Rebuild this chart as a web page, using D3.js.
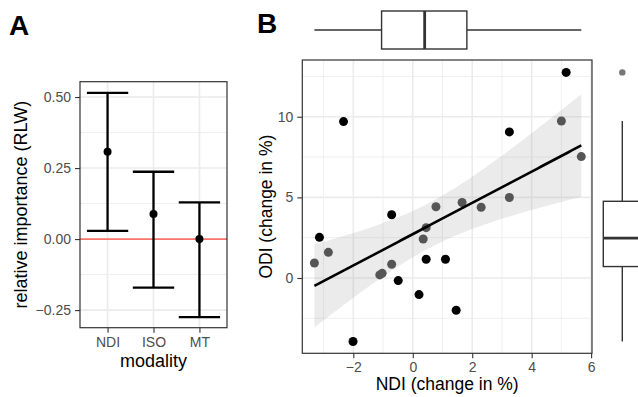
<!DOCTYPE html>
<html>
<head>
<meta charset="utf-8">
<script src="https://cdn.jsdelivr.net/npm/d3@7"></script>
<style>
  body { margin: 0; background: #fff; }
  svg { display: block; font-family: "Liberation Sans", Arial, sans-serif; }
</style>
</head>
<body>
<svg id="fig" width="638" height="397"></svg>
<script>
// panel A: relative importance per modality
var modalities = ['NDI', 'ISO', 'MT'];
var rlwEstimate = [0.307, 0.088, 0.0];
var rlwLower = [0.029, -0.171, -0.275];
var rlwUpper = [0.515, 0.237, 0.129];
var rlwTicks = [-0.25, 0, 0.25, 0.5];
var rlwTickLabels = ['\u22120.25', '0.00', '0.25', '0.50'];

// panel B: NDI vs ODI change per subject
var ndiChange = [-3.31, -3.14, -2.84, -2.33, -2.01, -1.11, -1.03, -0.71, -0.71, -0.49, 0.21, 0.35,
                 0.45, 0.45, 0.78, 1.10, 1.46, 1.66, 2.30, 3.25, 3.25, 5.00, 5.16, 5.67];
var odiChange = [0.93, 2.52, 1.59, 9.70, -3.94, 0.19, 0.29, 3.92, 0.85, -0.16, -1.03, 2.42,
                 3.12, 1.16, 4.42, 1.16, -2.00, 4.68, 4.39, 9.06, 4.99, 9.74, 12.75, 7.53];
var pointGroup = ['g2', 'g1', 'g2', 'g1', 'g1', 'g2', 'g2', 'g1', 'g2', 'g1', 'g1', 'g2',
                  'g2', 'g1', 'g2', 'g1', 'g1', 'g2', 'g2', 'g1', 'g2', 'g2', 'g1', 'g2'];
var ndiTicks = [-2, 0, 2, 4, 6];
var odiTicks = [0, 5, 10];

var T_CRIT = 2.074; // t(0.975, df = 22)

var svg = d3.select('#fig');
var gridCol = '#ebebeb';
var tickTextCol = '#4d4d4d';
var frameCol = '#333333';

function drawGrid(g, xs, ys, xMinor, yMinor, x0, x1, y0, y1) {
  xMinor.forEach(function(v) {
    g.append('line').attr('x1', xs(v)).attr('x2', xs(v)).attr('y1', y0).attr('y2', y1)
      .attr('stroke', gridCol).attr('stroke-width', 0.8);
  });
  yMinor.forEach(function(v) {
    g.append('line').attr('y1', ys(v)).attr('y2', ys(v)).attr('x1', x0).attr('x2', x1)
      .attr('stroke', gridCol).attr('stroke-width', 0.8);
  });
}

function styleAxis(ax) {
  ax.select('.domain').remove();
  ax.selectAll('.tick line').attr('stroke', frameCol).attr('stroke-width', 1.1);
  ax.selectAll('.tick text').attr('fill', tickTextCol).style('font-size', '14px')
    .style('font-family', '"Liberation Sans", Arial, sans-serif');
}

// ---------- Panel A ----------
var aL = 80, aR = 227, aT = 81.7, aB = 327.7;
var xA = d3.scalePoint().domain(modalities).range([aL, aR]).padding(0.6);
var yA = d3.scaleLinear().domain([-0.312, 0.554]).range([aB, aT]);

var gA = svg.append('g');
gA.append('rect').attr('x', aL).attr('y', aT).attr('width', aR - aL).attr('height', aB - aT).attr('fill', '#fff');
drawGrid(gA, xA, yA, [], [-0.125, 0.125, 0.375], aL, aR, aT, aB);
rlwTicks.forEach(function(v) {
  gA.append('line').attr('y1', yA(v)).attr('y2', yA(v)).attr('x1', aL).attr('x2', aR)
    .attr('stroke', gridCol).attr('stroke-width', 1.6);
});
modalities.forEach(function(m) {
  gA.append('line').attr('x1', xA(m)).attr('x2', xA(m)).attr('y1', aT).attr('y2', aB)
    .attr('stroke', gridCol).attr('stroke-width', 1.6);
});
gA.append('line').attr('x1', aL).attr('x2', aR).attr('y1', yA(0)).attr('y2', yA(0))
  .attr('stroke', '#F8766D').attr('stroke-width', 1.8);

var capHalf = xA.step() * 0.45;
modalities.forEach(function(m, i) {
  var cx = xA(m);
  gA.append('line').attr('x1', cx).attr('x2', cx).attr('y1', yA(rlwLower[i])).attr('y2', yA(rlwUpper[i]))
    .attr('stroke', '#000').attr('stroke-width', 2.3);
  [rlwLower[i], rlwUpper[i]].forEach(function(v) {
    gA.append('line').attr('x1', cx - capHalf).attr('x2', cx + capHalf).attr('y1', yA(v)).attr('y2', yA(v))
      .attr('stroke', '#000').attr('stroke-width', 2.3);
  });
  gA.append('circle').attr('cx', cx).attr('cy', yA(rlwEstimate[i])).attr('r', 4).attr('fill', '#000');
});
gA.append('rect').attr('x', aL).attr('y', aT).attr('width', aR - aL).attr('height', aB - aT)
  .attr('fill', 'none').attr('stroke', frameCol).attr('stroke-width', 1.2);

var axAy = gA.append('g').attr('transform', 'translate(' + aL + ',0)')
  .call(d3.axisLeft(yA).tickValues(rlwTicks).tickSize(5).tickPadding(4)
    .tickFormat(function(d, i) { return rlwTickLabels[i]; }));
styleAxis(axAy);
var axAx = gA.append('g').attr('transform', 'translate(0,' + aB + ')')
  .call(d3.axisBottom(xA).tickSize(5).tickPadding(4));
styleAxis(axAx);

gA.append('text').attr('x', (aL + aR) / 2).attr('y', 367).attr('text-anchor', 'middle')
  .style('font-size', '18px').text('modality');
gA.append('text').attr('transform', 'translate(27,' + ((aT + aB) / 2) + ') rotate(-90)')
  .attr('text-anchor', 'middle').style('font-size', '18px').text('relative importance (RLW)');
gA.append('text').attr('x', 9).attr('y', 35).style('font-size', '28px').style('font-weight', 'bold').text('A');

// ---------- Panel B ----------
var bL = 302.3, bR = 592, bT = 60, bB = 353.3;
var xB = d3.scaleLinear().domain([-3.717, 6.03]).range([bL, bR]);
var yB = d3.scaleLinear().domain([-4.67, 13.52]).range([bB, bT]);

var gB = svg.append('g');
gB.append('rect').attr('x', bL).attr('y', bT).attr('width', bR - bL).attr('height', bB - bT).attr('fill', '#fff');
drawGrid(gB, xB, yB, [-3, -1, 1, 3, 5], [-2.5, 2.5, 7.5, 12.5], bL, bR, bT, bB);
ndiTicks.forEach(function(v) {
  gB.append('line').attr('x1', xB(v)).attr('x2', xB(v)).attr('y1', bT).attr('y2', bB)
    .attr('stroke', gridCol).attr('stroke-width', 1.6);
});
odiTicks.forEach(function(v) {
  gB.append('line').attr('y1', yB(v)).attr('y2', yB(v)).attr('x1', bL).attr('x2', bR)
    .attr('stroke', gridCol).attr('stroke-width', 1.6);
});

// linear fit with 95% confidence band
var n = ndiChange.length;
var mx = d3.mean(ndiChange), my = d3.mean(odiChange);
var sxx = d3.sum(ndiChange, function(x) { return (x - mx) * (x - mx); });
var sxy = d3.sum(ndiChange, function(x, i) { return (x - mx) * (odiChange[i] - my); });
var slope = sxy / sxx, intercept = my - slope * mx;
var sse = d3.sum(ndiChange, function(x, i) { var r = odiChange[i] - (intercept + slope * x); return r * r; });
var sRes = Math.sqrt(sse / (n - 2));
var xMin = d3.min(ndiChange), xMax = d3.max(ndiChange);
var band = d3.range(81).map(function(k) {
  var x = xMin + (xMax - xMin) * k / 80;
  var fit = intercept + slope * x;
  var se = sRes * Math.sqrt(1 / n + (x - mx) * (x - mx) / sxx);
  return { x: x, fit: fit, lo: fit - T_CRIT * se, hi: fit + T_CRIT * se };
});
gB.append('path').datum(band)
  .attr('d', d3.area().x(function(d) { return xB(d.x); }).y0(function(d) { return yB(d.lo); }).y1(function(d) { return yB(d.hi); }))
  .attr('fill', '#999').attr('fill-opacity', 0.2);

var pts = ndiChange.map(function(x, i) { return { x: x, y: odiChange[i], g: pointGroup[i] }; });
pts.sort(function(a, b) { return a.g === b.g ? 0 : (a.g === 'g2' ? -1 : 1); });
gB.selectAll('circle.pt').data(pts).enter().append('circle').attr('class', 'pt')
  .attr('cx', function(d) { return xB(d.x); })
  .attr('cy', function(d) { return yB(d.y); })
  .attr('r', 4.5)
  .attr('fill', function(d) { return d.g === 'g1' ? '#000' : '#555'; });

gB.append('path').datum(band)
  .attr('d', d3.line().x(function(d) { return xB(d.x); }).y(function(d) { return yB(d.fit); }))
  .attr('fill', 'none').attr('stroke', '#000').attr('stroke-width', 2.6);

gB.append('rect').attr('x', bL).attr('y', bT).attr('width', bR - bL).attr('height', bB - bT)
  .attr('fill', 'none').attr('stroke', frameCol).attr('stroke-width', 1.2);

var axBy = gB.append('g').attr('transform', 'translate(' + bL + ',0)')
  .call(d3.axisLeft(yB).tickValues(odiTicks).tickSize(5).tickPadding(4).tickFormat(d3.format('d')));
styleAxis(axBy);
var axBx = gB.append('g').attr('transform', 'translate(0,' + bB + ')')
  .call(d3.axisBottom(xB).tickValues(ndiTicks).tickSize(5).tickPadding(4)
    .tickFormat(function(d) { return d < 0 ? '\u2212' + Math.abs(d) : d; }));
styleAxis(axBx);

gB.append('text').attr('x', (bL + bR) / 2).attr('y', 390).attr('text-anchor', 'middle')
  .style('font-size', '17.5px').text('NDI (change in %)');
gB.append('text').attr('transform', 'translate(272,' + ((bT + bB) / 2) + ') rotate(-90)')
  .attr('text-anchor', 'middle').style('font-size', '17.5px').text('ODI (change in %)');
gB.append('text').attr('x', 257).attr('y', 33).style('font-size', '28px').style('font-weight', 'bold').text('B');

// marginal boxplots
function boxStats(vals) {
  var s = vals.slice().sort(d3.ascending);
  var q1 = d3.quantileSorted(s, 0.25), med = d3.quantileSorted(s, 0.5), q3 = d3.quantileSorted(s, 0.75);
  var iqr = q3 - q1;
  var inside = s.filter(function(v) { return v >= q1 - 1.5 * iqr && v <= q3 + 1.5 * iqr; });
  return { q1: q1, med: med, q3: q3, lo: d3.min(inside), hi: d3.max(inside),
           out: s.filter(function(v) { return v < q1 - 1.5 * iqr || v > q3 + 1.5 * iqr; }) };
}
var boxHalf = 19;

// top: NDI
var bx = boxStats(ndiChange), cy = 30;
var gTop = svg.append('g');
gTop.append('line').attr('x1', xB(bx.lo)).attr('x2', xB(bx.q1)).attr('y1', cy).attr('y2', cy).attr('stroke', frameCol).attr('stroke-width', 1.4);
gTop.append('line').attr('x1', xB(bx.q3)).attr('x2', xB(bx.hi)).attr('y1', cy).attr('y2', cy).attr('stroke', frameCol).attr('stroke-width', 1.4);
gTop.append('rect').attr('x', xB(bx.q1)).attr('y', cy - boxHalf).attr('width', xB(bx.q3) - xB(bx.q1)).attr('height', 2 * boxHalf)
  .attr('fill', '#fff').attr('stroke', frameCol).attr('stroke-width', 1.4);
gTop.append('line').attr('x1', xB(bx.med)).attr('x2', xB(bx.med)).attr('y1', cy - boxHalf).attr('y2', cy + boxHalf).attr('stroke', frameCol).attr('stroke-width', 2.8);
bx.out.forEach(function(v) {
  gTop.append('circle').attr('cx', xB(v)).attr('cy', cy).attr('r', 3.2).attr('fill', '#777');
});

// right: ODI
var by = boxStats(odiChange), cx = 622.3;
var gRight = svg.append('g');
gRight.append('line').attr('x1', cx).attr('x2', cx).attr('y1', yB(by.lo)).attr('y2', yB(by.q1)).attr('stroke', frameCol).attr('stroke-width', 1.4);
gRight.append('line').attr('x1', cx).attr('x2', cx).attr('y1', yB(by.q3)).attr('y2', yB(by.hi)).attr('stroke', frameCol).attr('stroke-width', 1.4);
gRight.append('rect').attr('x', cx - boxHalf).attr('y', yB(by.q3)).attr('width', 2 * boxHalf).attr('height', yB(by.q1) - yB(by.q3))
  .attr('fill', '#fff').attr('stroke', frameCol).attr('stroke-width', 1.4);
gRight.append('line').attr('x1', cx - boxHalf).attr('x2', cx + boxHalf).attr('y1', yB(by.med)).attr('y2', yB(by.med)).attr('stroke', frameCol).attr('stroke-width', 2.8);
by.out.forEach(function(v) {
  gRight.append('circle').attr('cx', cx).attr('cy', yB(v)).attr('r', 3.2).attr('fill', '#777');
});
</script>
</body>
</html>
